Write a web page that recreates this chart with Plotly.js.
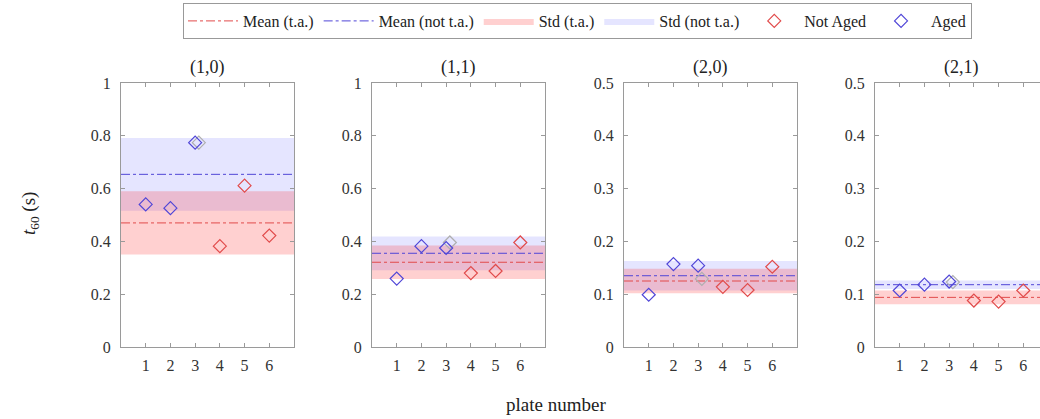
<!DOCTYPE html>
<html>
<head>
<meta charset="utf-8">
<script src="https://cdn.plot.ly/plotly-3.0.1.min.js"></script>
<style>
  html, body { margin: 0; padding: 0; overflow: hidden; background: #fff; }
  #chart { width: 1060px; height: 419px; }
</style>
</head>
<body>
<div id="chart"></div>
<script>
// Reverberation time t60 per plate, four mode panels
const panelTitles = ['(1,0)', '(1,1)', '(2,0)', '(2,1)'];
const plateTicks = [1, 2, 3, 4, 5, 6];
const agedPlates = [1, 2, 3];
const notAgedPlates = [4, 5, 6];

const aged_10 = [0.540, 0.526, 0.774];
const aged_11 = [0.259, 0.382, 0.375];
const aged_20 = [0.099, 0.157, 0.154];
const aged_21 = [0.107, 0.118, 0.124];

const notAged_10 = [0.382, 0.611, 0.422];
const notAged_11 = [0.280, 0.288, 0.396];
const notAged_20 = [0.114, 0.108, 0.152];
const notAged_21 = [0.088, 0.086, 0.107];

// repeat measurement of plate 3 (grey)
const repeatPlate = [3, 3, 3, 3];
const repeatValue = [0.774, 0.396, 0.129, 0.123];

const meanTA = [0.470, 0.321, 0.125, 0.094];
const stdTA = [0.120, 0.063, 0.023, 0.013];
const meanNotTA = [0.654, 0.355, 0.135, 0.118];
const stdNotTA = [0.138, 0.064, 0.028, 0.008];

const yMax = [1, 1, 0.5, 0.5];
const yStep = [0.2, 0.2, 0.1, 0.1];

const aged = [aged_10, aged_11, aged_20, aged_21];
const notAged = [notAged_10, notAged_11, notAged_20, notAged_21];

// ---- styling ----
const W = 1060, H = 419;
const FONT = 'Liberation Serif';
const RED = 'rgb(225,75,75)';
const BLUE = 'rgb(80,70,215)';
const GREY = 'rgb(175,175,175)';
const X_RANGE = [0, 7];
const panelLeft = [121, 372, 624, 875];
const panelWidth = 173;
const plotTop = 83, plotBottom = 347;
const repeatShift = 0.15;

const traces = [];
const layout = {
  width: W, height: H,
  margin: {l: 0, r: 0, t: 0, b: 0},
  paper_bgcolor: '#fff', plot_bgcolor: '#fff',
  font: {family: FONT, size: 15, color: '#333'},
  showlegend: true,
  legend: {
    orientation: 'h', x: 183 / W, y: 1 - 3 / H, xanchor: 'left', yanchor: 'top',
    bordercolor: '#999', borderwidth: 1, bgcolor: '#fff',
    font: {family: FONT, size: 16, color: '#222'},
    itemwidth: 50, tracegroupgap: 0
  },
  annotations: [],
};

for (let i = 0; i < 4; i++) {
  const sfx = i === 0 ? '' : String(i + 1);
  const xa = 'x' + sfx, ya = 'y' + sfx;
  const first = i === 0;
  const [x0, x1] = X_RANGE;

  // std bands
  traces.push({
    x: [x0, x1, x1, x0], y: [meanNotTA[i] - stdNotTA[i], meanNotTA[i] - stdNotTA[i], meanNotTA[i] + stdNotTA[i], meanNotTA[i] + stdNotTA[i]],
    xaxis: xa, yaxis: ya, mode: 'lines', fill: 'toself', fillcolor: 'rgba(70,70,255,0.14)',
    line: {width: 0, color: 'rgba(0,0,0,0)'}, name: 'Std (not t.a.)', legendgroup: 'sn', legendrank: 4,
    showlegend: first, hoverinfo: 'skip'
  });
  traces.push({
    x: [x0, x1, x1, x0], y: [meanTA[i] - stdTA[i], meanTA[i] - stdTA[i], meanTA[i] + stdTA[i], meanTA[i] + stdTA[i]],
    xaxis: xa, yaxis: ya, mode: 'lines', fill: 'toself', fillcolor: 'rgba(255,40,40,0.22)',
    line: {width: 0, color: 'rgba(0,0,0,0)'}, name: 'Std (t.a.)', legendgroup: 'st', legendrank: 3,
    showlegend: first, hoverinfo: 'skip'
  });
  // mean lines
  traces.push({
    x: [x0, x1], y: [meanTA[i], meanTA[i]], xaxis: xa, yaxis: ya, mode: 'lines',
    line: {color: RED, width: 1, dash: 'dashdot'}, name: 'Mean (t.a.)', legendgroup: 'mt', legendrank: 1,
    showlegend: first
  });
  traces.push({
    x: [x0, x1], y: [meanNotTA[i], meanNotTA[i]], xaxis: xa, yaxis: ya, mode: 'lines',
    line: {color: BLUE, width: 1, dash: 'dashdot'}, name: 'Mean (not t.a.)', legendgroup: 'mn', legendrank: 2,
    showlegend: first
  });
  // points
  traces.push({
    x: [repeatPlate[i] + repeatShift], y: [repeatValue[i]], xaxis: xa, yaxis: ya, mode: 'markers',
    marker: {symbol: 'diamond-open', size: 10, color: GREY, line: {width: 1.2}},
    showlegend: false, name: 'plate 3 (repeat)'
  });
  traces.push({
    x: notAgedPlates, y: notAged[i], xaxis: xa, yaxis: ya, mode: 'markers',
    marker: {symbol: 'diamond-open', size: 10, color: RED, line: {width: 1.2}},
    name: 'Not Aged', legendgroup: 'na', legendrank: 5, showlegend: first
  });
  traces.push({
    x: agedPlates, y: aged[i], xaxis: xa, yaxis: ya, mode: 'markers',
    marker: {symbol: 'diamond-open', size: 10, color: BLUE, line: {width: 1.2}},
    name: 'Aged', legendgroup: 'ag', legendrank: 6, showlegend: first
  });

  const axCommon = {
    showgrid: false, zeroline: false, showline: true, linecolor: '#9a9a9a', linewidth: 1,
    mirror: 'ticks', ticks: 'inside', ticklen: 4, tickcolor: '#9a9a9a',
    tickfont: {family: FONT, size: 16, color: '#333'}, fixedrange: true
  };
  layout['xaxis' + sfx] = Object.assign({}, axCommon, {
    domain: [panelLeft[i] / W, (panelLeft[i] + panelWidth) / W],
    range: X_RANGE, tickvals: plateTicks, anchor: ya, ticklabelstandoff: 4
  });
  const yticks = [];
  for (let v = 0; v <= yMax[i] + 1e-9; v += yStep[i]) yticks.push(Math.round(v * 10) / 10);
  layout['yaxis' + sfx] = Object.assign({}, axCommon, {
    domain: [(H - plotBottom) / H, (H - plotTop) / H],
    range: [0, yMax[i]], tickvals: yticks, anchor: xa, ticklabelstandoff: 6
  });

  layout.annotations.push({
    text: panelTitles[i], xref: 'paper', yref: 'paper',
    x: (panelLeft[i] + panelWidth / 2) / W, y: (H - plotTop + 3) / H,
    xanchor: 'center', yanchor: 'bottom', showarrow: false,
    font: {family: FONT, size: 18, color: '#222'}
  });
}

// shared axis labels
layout.annotations.push({
  text: 'plate number', xref: 'paper', yref: 'paper', x: 556 / W, y: (H - 404) / H,
  xanchor: 'center', yanchor: 'middle', showarrow: false,
  font: {family: FONT, size: 19, color: '#222'}
});
layout.annotations.push({
  text: '<i>t</i><sub>60</sub> (s)', xref: 'paper', yref: 'paper', x: 30 / W, y: (H - 214) / H,
  xanchor: 'center', yanchor: 'middle', showarrow: false, textangle: -90,
  font: {family: FONT, size: 19, color: '#222'}
});

Plotly.newPlot('chart', traces, layout, {staticPlot: true, displayModeBar: false});
</script>
</body>
</html>
